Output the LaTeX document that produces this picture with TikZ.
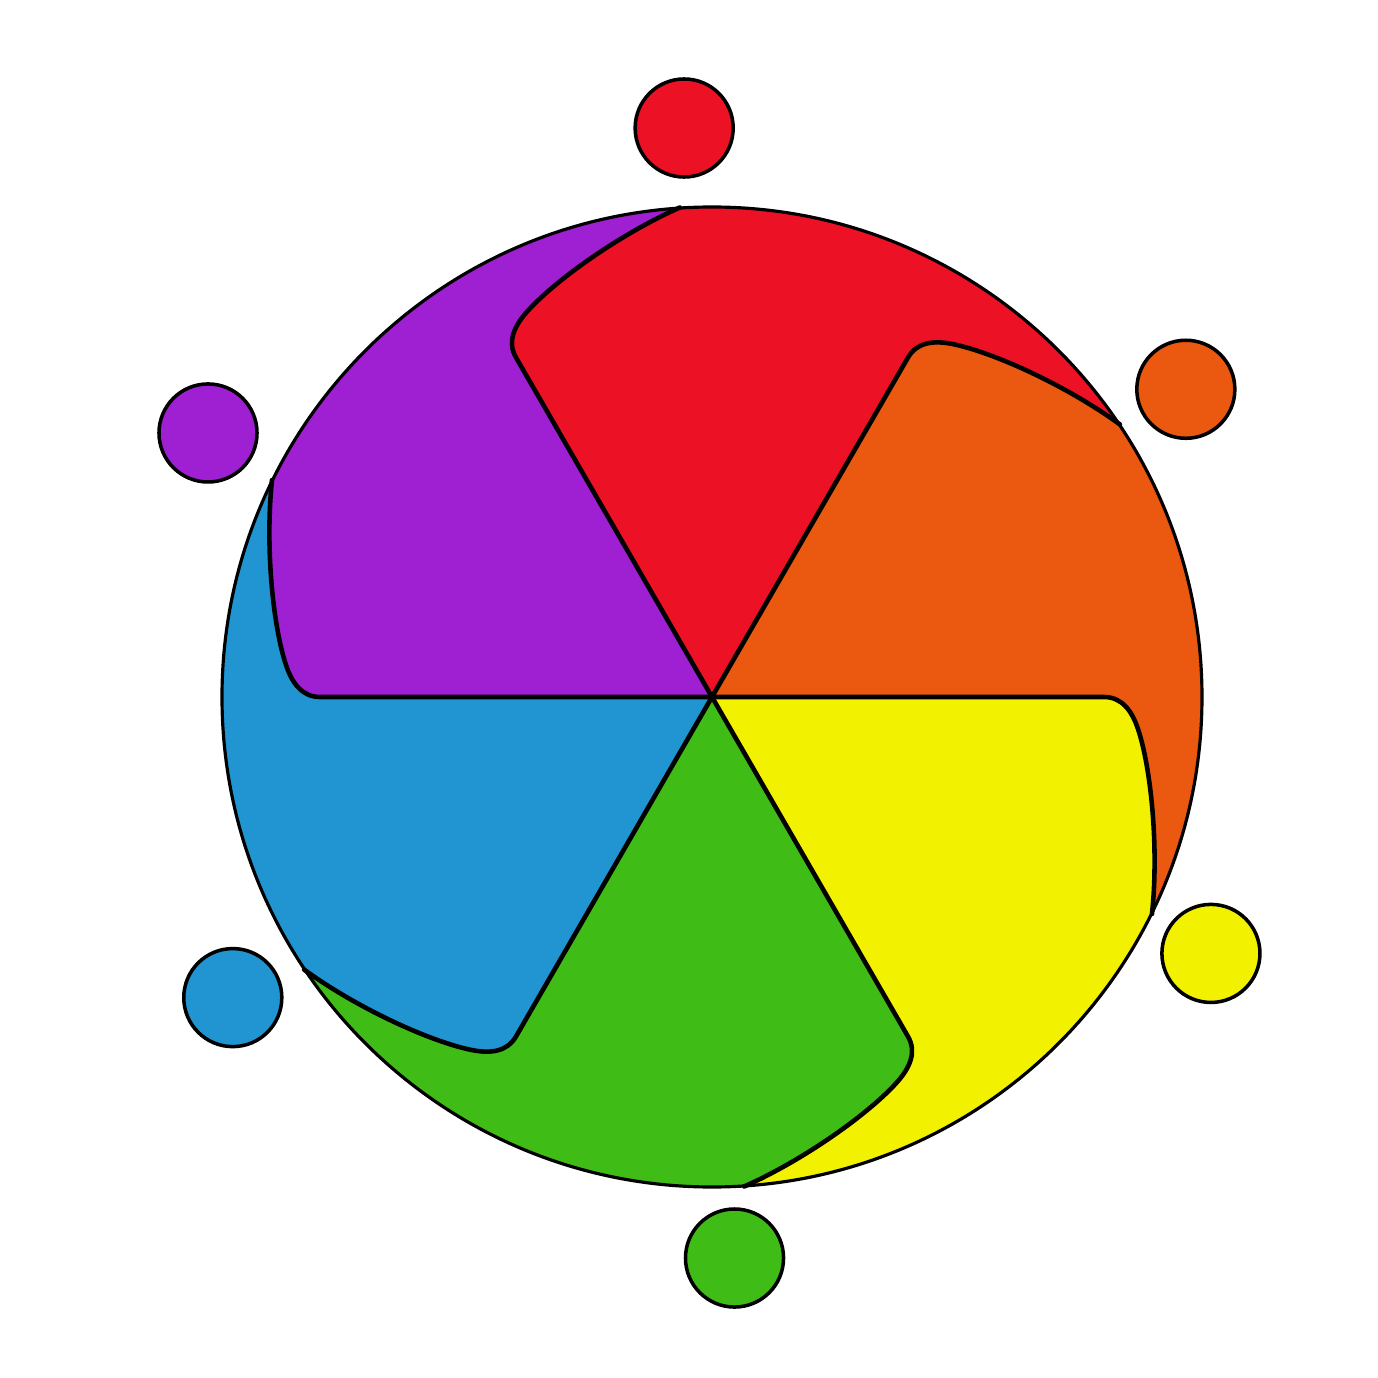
\documentclass[tikz,border=0pt]{standalone}
\usepackage{tikz}

\definecolor{cRed}{RGB}{236,17,36}
\definecolor{cOrange}{RGB}{235,88,16}
\definecolor{cYellow}{RGB}{242,242,0}
\definecolor{cGreen}{RGB}{64,188,22}
\definecolor{cBlue}{RGB}{32,149,210}
\definecolor{cPurple}{RGB}{159,31,210}

\begin{document}
\begin{tikzpicture}[
	x=0.01cm, y=0.01cm,
	hook/.style={
		line width=1.3pt,
		line cap=round,
		line join=round
	},
	rim/.style={
		line width=0.9pt
	},
	dot/.style={
		circle,
		draw,
		line width=1pt,
		minimum size=0.98cm,
		inner sep=0pt
	}
	]
	
	\useasboundingbox (-712,-681) rectangle (666,697);
	
	% hook points of each blade
	\foreach \i/\a in {1/120,2/60,3/0,4/-60,5/-120,6/-180} {
		\begin{scope}[rotate=\a]
		\coordinate (k\i-a) at (392,0);
		\coordinate (k\i-b) at (410,0);
		\coordinate (k\i-c) at (420,-14);
		\coordinate (k\i-d) at (426,-32);
		\coordinate (k\i-e) at (439,-71);
		\coordinate (k\i-f) at (447,-150);
		\coordinate (k\i-g) at (440,-217);
		\end{scope}
	}
	
	% blades
	\foreach \i/\j/\col/\a in {1/2/cRed/120,2/3/cOrange/60,3/4/cYellow/0,4/5/cGreen/-60,5/6/cBlue/-120,6/1/cPurple/-180} {
		\pgfmathsetmacro{\sa}{\a-26.25}
		\pgfmathsetmacro{\ea}{\a-86.25}
		\fill[\col] (0,0) -- (k\i-a) .. controls (k\i-b) and (k\i-c) .. (k\i-d) .. controls (k\i-e) and (k\i-f) .. (k\i-g)
			arc[start angle=\sa, end angle=\ea, radius=490]
			.. controls (k\j-f) and (k\j-e) .. (k\j-d) .. controls (k\j-c) and (k\j-b) .. (k\j-a) -- cycle;
	}
	
	\foreach \i in {1,...,6}
		\draw[hook] (0,0) -- (k\i-a) .. controls (k\i-b) and (k\i-c) .. (k\i-d) .. controls (k\i-e) and (k\i-f) .. (k\i-g);
	
	\draw[rim] (0,0) circle[radius=490];
	
	% small circles
	\foreach \name/\ang/\dist/\col in {Red/92.8/569.7/cRed,Orange/33/565/cOrange,Yellow/-27.2/561/cYellow,Green/-87.7/561.5/cGreen,Blue/-147.9/565.7/cBlue,Purple/152.35/569/cPurple}
		\node[dot, fill=\col] (dot\name) at (\ang:\dist) {};
	
\end{tikzpicture}
\end{document}
